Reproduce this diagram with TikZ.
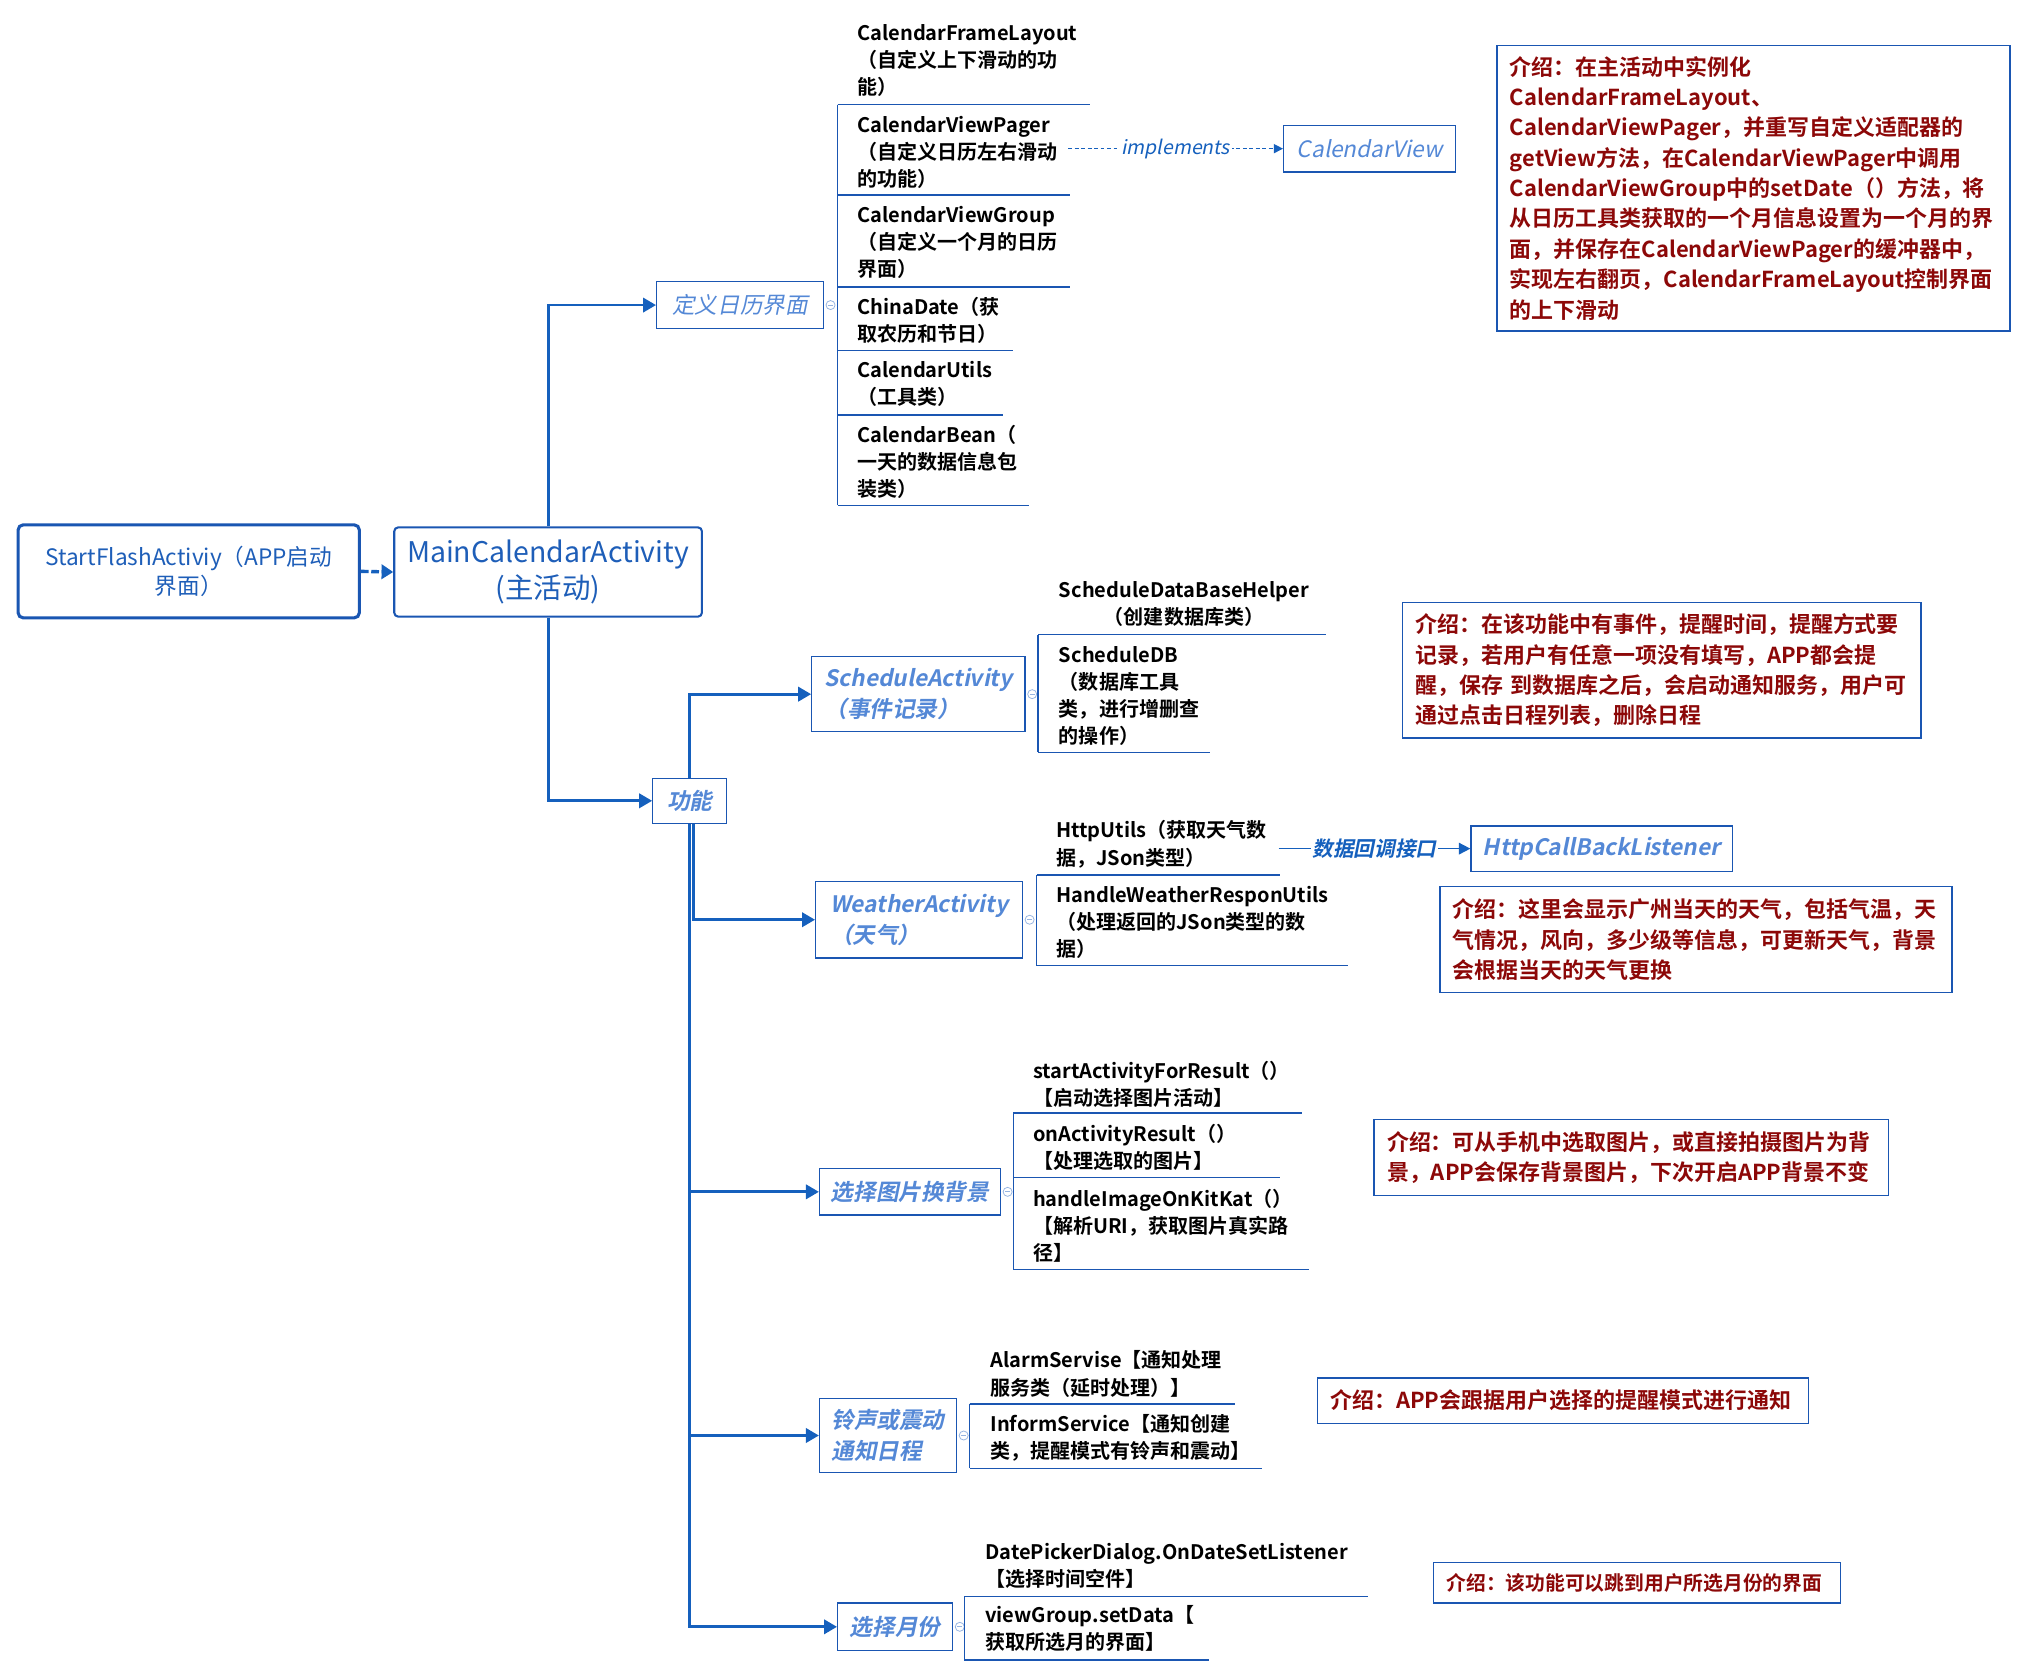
\documentclass[tikz,border=0pt]{standalone}
\usepackage{fontspec}
\setmainfont{Noto Sans CJK SC}[BoldFont={Noto Sans CJK SC Bold}, ItalicFont={Noto Sans CJK SC}, ItalicFeatures={FakeSlant=0.2}, BoldItalicFont={Noto Sans CJK SC Bold}, BoldItalicFeatures={FakeSlant=0.2}]
\usetikzlibrary{arrows.meta}
\definecolor{lnblue}{RGB}{21,96,189}
\definecolor{bxblue}{RGB}{26,86,178}
\definecolor{brtxt}{RGB}{84,136,214}
\definecolor{rttxt}{RGB}{30,94,184}
\definecolor{rdtxt}{RGB}{140,8,8}
\definecolor{ccl}{RGB}{150,180,225}
\newcommand\lffont{\bfseries\fontsize{15.5}{21}\selectfont}
\newcommand\rdfont{\bfseries\fontsize{17}{23.5}\selectfont}
\newcommand\rdsfont{\bfseries\fontsize{15.3}{20}\selectfont}
\newcommand\brfont{\itshape\fontsize{17.5}{24}\selectfont}
\newcommand\brbfont{\bfseries\itshape\fontsize{17.5}{24}\selectfont}
\begin{document}
\begin{tikzpicture}[x=1pt,y=-1pt,
  conn/.style={draw=lnblue, line width=2.2pt},
  arr/.style={conn, -{Triangle[length=10pt,width=11pt]}},
  ul/.style={draw=bxblue, line width=1.1pt},
  rootbox/.style={draw=bxblue, text=rttxt, align=center, inner sep=0, rounded corners=4pt},
  branch/.style={draw=bxblue, line width=1pt, text=brtxt, font=\brbfont, align=left, inner sep=0},
  leaf/.style={anchor=north west, inner sep=0, align=left, font=\lffont, yshift=8.7pt},
  note/.style={draw=bxblue, line width=1pt, text=rdtxt, font=\rdfont, align=left, inner xsep=10pt, inner ysep=0},
  cc/.style={circle, draw=ccl, line width=0.6pt, minimum size=7pt, inner sep=0}
]
\useasboundingbox (0,0) rectangle (1565,1293);

% root nodes
\node[rootbox, line width=2.4pt, minimum width=264pt, minimum height=72pt, font=\fontsize{17.5}{23}\selectfont] (start) at (146,442) {StartFlashActiviy（APP启动\\界面）};
\node[rootbox, line width=1.6pt, rounded corners=3pt, minimum width=238pt, minimum height=69pt, font=\fontsize{22}{28}\selectfont] (main) at (424,442.5) {MainCalendarActivity\\(主活动)};

% branch nodes
\node[branch, font=\brfont, align=center, minimum width=129pt, minimum height=36pt] (cal) at (572.5,236) {定义日历界面};
\node[branch, font=\brfont, minimum width=133pt, minimum height=36pt] (cview) at (1059.5,115) {CalendarView};
\node[branch, align=center, minimum width=57pt, minimum height=35pt] (func) at (533.5,619.5) {功能};
\node[branch, minimum width=165pt, minimum height=58pt] (sched) at (710.5,537) {ScheduleActivity\\（事件记录）};
\node[branch, minimum width=202pt, minimum height=35pt] (http) at (1239,656.5) {HttpCallBackListener};
\node[branch, minimum width=160pt, minimum height=59pt] (weather) at (711,711.5) {WeatherActivity\\（天气）};
\node[branch, minimum width=140pt, minimum height=36pt] (image) at (704,922) {选择图片换背景};
\node[branch, minimum width=106pt, minimum height=57pt] (alarm) at (687,1110.5) {铃声或震动\\通知日程};
\node[branch, minimum width=89pt, minimum height=37pt] (month) at (692.5,1258.5) {选择月份};

% collapse circles
\foreach \b in {cal,sched,weather,image,alarm,month}{
  \node[cc] (cc\b) at ([xshift=5pt]\b.east) {};
  \draw[ccl, line width=0.6pt] ([xshift=-2pt]cc\b.center) -- ([xshift=2pt]cc\b.center);
}

% leaves
\node[leaf] (l1) at (663,25) {\strut CalendarFrameLayout\\（自定义上下滑动的功\\能）};
\node[leaf] (l2) at (663,96) {\strut CalendarViewPager\\（自定义日历左右滑动\\的功能）};
\node[leaf] (l3) at (663,166) {\strut CalendarViewGroup\\（自定义一个月的日历\\界面）};
\node[leaf] (l4) at (663,237) {\strut ChinaDate（获\\取农历和节日）};
\node[leaf] (l5) at (663,286) {\strut CalendarUtils\\（工具类）};
\node[leaf] (l6) at (663,336) {\strut CalendarBean（\\一天的数据信息包\\装类）};
\node[leaf, align=center] (l7) at (819,456) {\strut ScheduleDataBaseHelper\\（创建数据库类）};
\node[leaf] (l8) at (819,506) {\strut ScheduleDB\\（数据库工具\\类，进行增删查\\的操作）};
\node[leaf] (l9) at (817,642) {\strut HttpUtils（获取天气数\\据，JSon类型）};
\node[leaf] (l10) at (817,692) {\strut HandleWeatherResponUtils\\（处理返回的JSon类型的数\\据）};
\node[leaf] (l11) at (799,828) {\strut startActivityForResult（）\\【启动选择图片活动】};
\node[leaf] (l12) at (799,877) {\strut onActivityResult（）\\【处理选取的图片】};
\node[leaf] (l13) at (799,927) {\strut handleImageOnKitKat（）\\【解析URI，获取图片真实路\\径】};
\node[leaf] (l14) at (766,1052) {\strut AlarmServise【通知处理\\服务类（延时处理）】};
\node[leaf] (l15) at (766,1101) {\strut InformService【通知创建\\类，提醒模式有铃声和震动】};
\node[leaf] (l16) at (762,1200) {\strut DatePickerDialog.OnDateSetListener\\【选择时间空件】};
\node[leaf] (l17) at (762,1249) {\strut viewGroup.setData【\\获取所选月的界面】};

% leaf underlines
\draw[ul] (648,81) -- (843,81) (648,151) -- (828,151) (648,222) -- (828,222) (648,271) -- (784,271) (648,321) -- (776,321) (648,391) -- (796,391) (648,81) -- (648,391);
\draw[ul] (803,491) -- (1026,491) (803,582) -- (936,582) (803,491) -- (803,582);
\draw[ul] (802,677) -- (990,677) (802,747) -- (1043,747) (802,677) -- (802,747);
\draw[ul] (784,861) -- (1007,861) (784,911) -- (990,911) (784,982) -- (1013,982) (784,861) -- (784,982);
\draw[ul] (750,1086) -- (955,1086) (750,1136) -- (976,1136) (750,1086) -- (750,1136);
\draw[ul] (746,1235) -- (1058,1235) (746,1284) -- (935,1284) (746,1235) -- (746,1284);

% notes
\node[note, text width=377pt, minimum height=221pt] (n1) at (1356.5,145.5) {介绍：在主活动中实例化\\CalendarFrameLayout、\\CalendarViewPager，并重写自定义适配器的\\getView方法，在CalendarViewPager中调用\\CalendarViewGroup中的setDate（）方法，将\\从日历工具类获取的一个月信息设置为一个月的界\\面，并保存在CalendarViewPager的缓冲器中，\\实现左右翻页，CalendarFrameLayout控制界面\\的上下滑动};
\node[note, text width=381pt, minimum height=105pt] (n2) at (1285.5,518.5) {介绍：在该功能中有事件，提醒时间，提醒方式要\\记录，若用户有任意一项没有填写，APP都会提\\醒，保存 到数据库之后，会启动通知服务，用户可\\通过点击日程列表，删除日程};
\node[note, text width=376pt, minimum height=82pt] (n3) at (1312,727) {介绍：这里会显示广州当天的天气，包括气温，天\\气情况，风向，多少级等信息，可更新天气，背景\\会根据当天的天气更换};
\node[note, text width=378pt, minimum height=59pt] (n4) at (1262,895.5) {介绍：可从手机中选取图片，或直接拍摄图片为背\\景，APP会保存背景图片，下次开启APP背景不变};
\node[note, text width=360pt, minimum height=35pt] (n5) at (1209,1083.5) {介绍：APP会跟据用户选择的提醒模式进行通知};
\node[note, font=\rdsfont, text width=295pt, minimum height=31pt] (n6) at (1266.5,1224.5) {介绍：该功能可以跳到用户所选月份的界面};

% connectors
\draw[conn, line width=2.6pt, dash pattern=on 6pt off 2pt, -{Triangle[length=9pt,width=11pt]}] (start.east) -- (main.west);
\draw[arr] (main.north) |- (cal.west);
\draw[arr] (main.south) |- (func.west);
\draw[arr] (func.north) |- (sched.west);
\draw[arr] ([xshift=3pt]func.south) |- (weather.west);
\draw[arr] (func.south) |- (image.west);
\draw[arr] (func.south) |- (alarm.west);
\draw[arr] (func.south) |- (month.west);

\draw[draw=lnblue, line width=1pt, dash pattern=on 3pt off 2pt, -{Triangle[length=7pt,width=7pt]}] ([xshift=8pt]cview.west -| l2.east) -- node[fill=white, inner xsep=2pt, inner ysep=1pt, text=lnblue, font=\itshape\fontsize{15}{18}\selectfont]{implements} (cview.west);
\draw[draw=lnblue, line width=1.3pt, -{Triangle[length=9pt,width=9pt]}] ([xshift=9pt]http.west -| l9.east) -- node[fill=white, inner xsep=1pt, inner ysep=1pt, text=lnblue, font=\bfseries\itshape\fontsize{16}{18}\selectfont]{数据回调接口} (http.west);
\end{tikzpicture}
\end{document}
